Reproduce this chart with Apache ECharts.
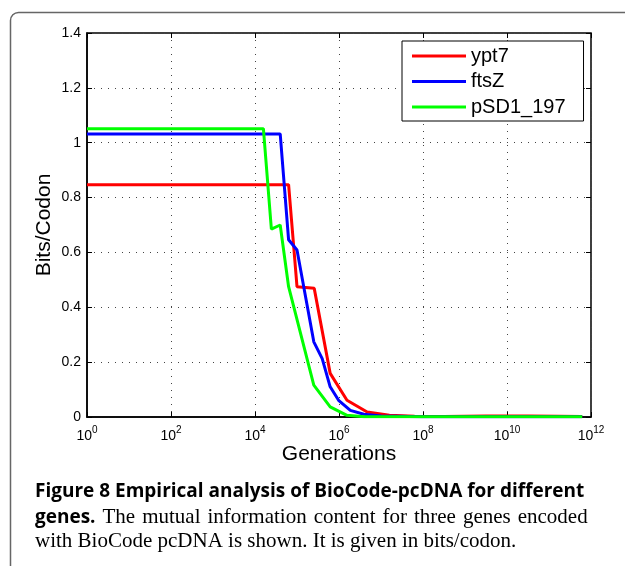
<!DOCTYPE html>
<html>
<head>
<meta charset="utf-8">
<script src="https://cdn.jsdelivr.net/npm/echarts@6/dist/echarts.min.js"></script>
<style>
  html, body { margin: 0; padding: 0; background: #fff; }
  #chart { width: 625px; height: 566px; }
</style>
</head>
<body>
<div id="chart"></div>
<script>
// Generations stored as log10 exponents
const seriesNames = ['ypt7', 'ftsZ', 'pSD1_197'];
const ypt7Exp   = [0, 4.8, 5.0, 5.41, 5.79, 6.19, 6.67, 7.2, 7.8, 8.5, 9.5, 10.5, 11.2, 11.79];
const ypt7Val   = [0.847, 0.847, 0.475, 0.469, 0.159, 0.061, 0.018, 0.006, 0.003, 0.002, 0.004, 0.004, 0.003, 0.002];
const ftsZExp   = [0, 4.6, 4.8, 5.0, 5.4, 5.6, 5.79, 5.99, 6.27, 6.59, 7.0, 8.0, 11.79];
const ftsZVal   = [1.032, 1.032, 0.646, 0.609, 0.274, 0.213, 0.11, 0.061, 0.024, 0.01, 0.004, 0.001, 0.001];
const pSDExp    = [0, 4.2, 4.39, 4.6, 4.8, 5.4, 5.79, 6.19, 6.6, 11.79];
const pSDVal    = [1.051, 1.051, 0.685, 0.70, 0.475, 0.116, 0.037, 0.006, 0.001, 0.001];
const colors = ['#ff0000', '#0000ff', '#00ff00'];

const captionBold1 = 'Figure 8 Empirical analysis of BioCode-pcDNA for different';
const captionBold2 = 'genes.';
const captionLine2 = 'The mutual information content for three genes encoded';
const captionLine3 = 'with BioCode pcDNA is shown. It is given in bits/codon.';

const zip = (a, b) => a.map((v, i) => [v, b[i]]);
const FONT = '"Liberation Sans", Arial, sans-serif';
const BOLD = 'bold 19px "Open Sans", "Noto Sans", sans-serif';
const SERIF = '21px "Liberation Serif", "DejaVu Serif", serif';

const chart = echarts.init(document.getElementById('chart'), null, { renderer: 'canvas' });

const gridLine = { show: true, lineStyle: { color: '#444', type: [1, 6], width: 1 } };
const xBase = { type: 'value', min: 0, max: 12, interval: 2 };
const yBase = { type: 'value', min: 0, max: 1.4, interval: 0.2 };
// helper axes that only carry tick marks, shifted 5px into the plot so ticks point inward
const tickOnly = (pos) => ({
  position: pos, offset: -5,
  axisLine: { show: true, onZero: false, lineStyle: { color: 'rgba(0,0,0,0)', width: 0 } },
  axisTick: { show: true, inside: false, length: 5, lineStyle: { color: '#000', width: 1 } },
  axisLabel: { show: false }, splitLine: { show: false }
});

// justified line 2: words joined by slightly widened spaces
const line2Words = captionLine2.split(' ');
const line2Rich = '{b|' + captionBold2 + '}' + line2Words.map(w => '{sp| }{r|' + w + '}').join('');

const option = {
  backgroundColor: '#fff',
  animation: false,
  textStyle: { fontFamily: FONT, color: '#000' },
  grid: { left: 87, right: 34, top: 33, bottom: 149, containLabel: false,
          show: true, borderColor: '#000', borderWidth: 1.5, backgroundColor: 'transparent' },
  legend: {
    orient: 'vertical',
    left: 402, top: 41,
    padding: [5, 18, 4, 10],
    itemWidth: 54, itemHeight: 3, itemGap: 5.5,
    icon: 'rect',
    borderColor: '#000', borderWidth: 1, backgroundColor: '#fff',
    textStyle: { fontSize: 20, fontFamily: FONT, color: '#000', lineHeight: 20 },
    data: seriesNames
  },
  xAxis: [Object.assign({}, xBase, {
    position: 'bottom',
    name: 'Generations', nameLocation: 'middle', nameGap: 27, nameMoveOverlap: false,
    nameTextStyle: { fontSize: 21, color: '#000', fontFamily: FONT },
    axisLine: { show: true, onZero: false, lineStyle: { color: '#000', width: 1.5 } },
    axisTick: { show: false },
    axisLabel: {
      margin: 8, color: '#000',
      formatter: v => '{b|10}{s|' + v + '}',
      rich: {
        b: { fontSize: 14, fontFamily: FONT, color: '#000' },
        s: { fontSize: 10, fontFamily: FONT, color: '#000', padding: [0, 0, 12, 0] }
      }
    },
    splitLine: gridLine
  }),
  Object.assign({}, xBase, tickOnly('bottom')),
  Object.assign({}, xBase, tickOnly('top'))],
  yAxis: [Object.assign({}, yBase, {
    position: 'left',
    name: 'Bits/Codon', nameLocation: 'middle', nameGap: 32, nameMoveOverlap: false,
    nameTextStyle: { fontSize: 21, color: '#000', fontFamily: FONT },
    axisLine: { show: true, onZero: false, lineStyle: { color: '#000', width: 1.5 } },
    axisTick: { show: false },
    axisLabel: { margin: 6, fontSize: 14, color: '#000', fontFamily: FONT,
      formatter: v => String(Math.round(v * 10) / 10) },
    splitLine: gridLine
  }),
  Object.assign({}, yBase, tickOnly('left')),
  Object.assign({}, yBase, tickOnly('right'))],
  series: [
    { name: seriesNames[0], type: 'line', data: zip(ypt7Exp, ypt7Val) },
    { name: seriesNames[1], type: 'line', data: zip(ftsZExp, ftsZVal) },
    { name: seriesNames[2], type: 'line', data: zip(pSDExp, pSDVal) }
  ].map((s, i) => Object.assign(s, {
    xAxisIndex: 0, yAxisIndex: 0, showSymbol: false, symbol: 'none',
    lineStyle: { color: colors[i], width: 3 }, itemStyle: { color: colors[i] }, z: 3 + i
  })),
  graphic: [
    { type: 'rect', left: 8, top: 10, z: -1, silent: true,
      shape: { width: 700, height: 700, r: 8 },
      style: { fill: 'none', stroke: '#666', lineWidth: 1.5 } },
    { type: 'text', left: 35, top: 482, silent: true,
      style: { text: captionBold1, font: BOLD, fill: '#000' } },
    { type: 'text', left: 35, top: 507, silent: true,
      style: {
        text: line2Rich,
        rich: {
          b: { font: BOLD, fill: '#000' },
          r: { font: SERIF, fill: '#000' },
          sp: { font: SERIF, fill: '#000', width: 7 }
        } } },
    { type: 'text', left: 35, top: 531, silent: true,
      style: { text: captionLine3, font: SERIF, fill: '#000' } }
  ]
};
chart.setOption(option);
</script>
</body>
</html>
